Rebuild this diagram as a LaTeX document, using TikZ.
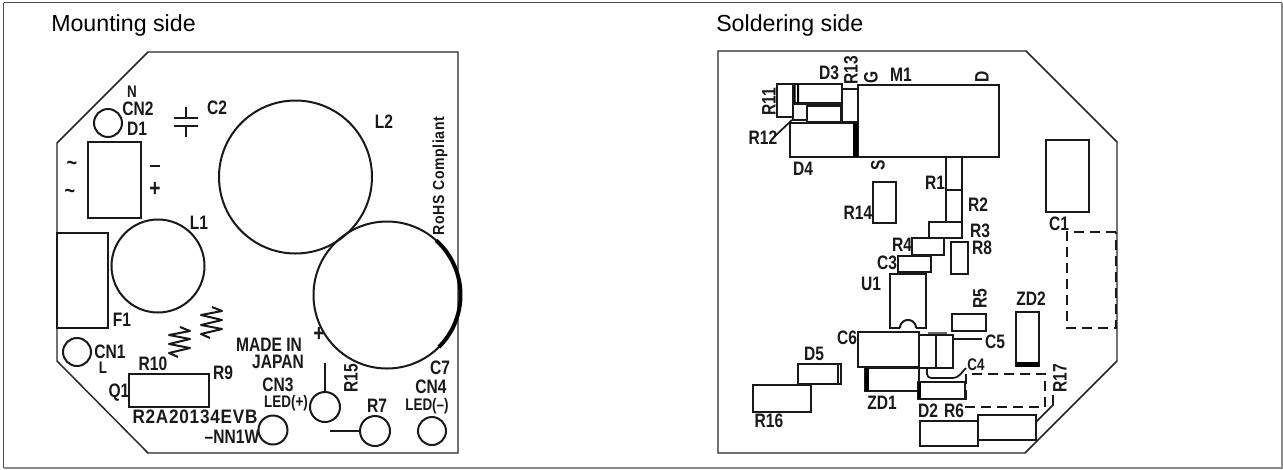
\documentclass[tikz,border=0pt]{standalone}
\usepackage{fontspec}
\setmainfont{Liberation Sans}
\newfontfamily\cadfont[FakeStretch=0.8]{Liberation Sans Bold}
\newfontfamily\cadwide[FakeStretch=0.88,LetterSpace=4]{Liberation Sans Bold}
\begin{document}
\begin{tikzpicture}[x=0.75pt,y=-0.75pt,
  board/.style={draw=black!85,line width=1.1pt,line join=miter},
  part/.style={draw=black!90,line width=1.5pt,line join=miter},
  dash part/.style={draw=black!90,line width=1.4pt,dash pattern=on 7.5pt off 4.5pt},
  lead/.style={draw=black!90,line width=1.3pt},
  lab/.style={font=\cadfont\fontsize{14.6}{14.6}\selectfont,inner sep=0pt,text=black!90,xshift=0.75pt},
  smlab/.style={font=\cadfont\fontsize{12.6}{12.6}\selectfont,inner sep=0pt,text=black!90,xshift=0.75pt},
  widelab/.style={font=\cadwide\fontsize{14.6}{14.6}\selectfont,inner sep=0pt,text=black!90},
  rohslab/.style={font=\cadwide\fontsize{12}{12}\selectfont,inner sep=0pt,text=black!90},
  title/.style={font=\fontsize{17.4}{18}\selectfont,anchor=west,inner sep=0pt,text=black}]
\useasboundingbox (0,0) rectangle (1283,469);
\fill[white] (0,0) rectangle (1283,469);
% frame
\draw[draw=black!70,line width=1.4pt] (3.5,2.5) -- (1282,2.5);
\draw[draw=black!70,line width=1.4pt] (3.5,2.5) -- (3.5,468);
\draw[draw=black!45,line width=1.1pt] (3.5,468) -- (1282,468) -- (1282,2.5);
\node[title] (t1) at (51,25) {Mounting side};
\node[title] (t2) at (716,25) {Soldering side};
% LEFT BOARD
\draw[board] (148,52) -- (458,52) -- (458,453) -- (148,453) -- (57,361) -- (57,143) -- cycle;
\draw[part] (108,123) circle[radius=14];
\draw[part] (88,142) rectangle (141,218);
\draw[part] (57,233) rectangle (108,328);
\draw[part] (158,266) circle[radius=46.5];
\draw[part] (295.5,177) circle[radius=76.5];
\draw[part] (387,295) circle[radius=73.5];
\draw[line width=3pt,black] plot[domain=-48:45,samples=40] ({387+73.5*cos(\x)},{295+73.5*sin(\x)});
\draw[part] (186,107) -- (186,118) (186,126) -- (186,137) (174,118) -- (198,118) (174,126) -- (198,126);
\draw[part,line join=round] (180,327) -- (190,331) -- (169,335) -- (190,339) -- (169,344) -- (190,348) -- (169,353) -- (178,357);
\draw[part,line join=round] (212,307) -- (222,311) -- (201,315) -- (222,320) -- (201,325) -- (222,329) -- (201,334) -- (210,338);
\draw[part] (77,352) circle[radius=14];
\draw[part] (129,374) rectangle (209,407);
\draw[part] (325,407) circle[radius=15];
\draw[lead] (325,392) -- (325,363);
\draw[part] (273,430) circle[radius=14.5];
\draw[part] (375,431) circle[radius=15];
\draw[lead] (360,431) -- (330,431);
\draw[part] (432,431) circle[radius=14];
\node[smlab] (n1) at (131,92) {N};
\node[lab] (n2) at (137,109) {CN2};
\node[lab] (n3) at (136,129) {D1};
\node[lab] (n4) at (216,108) {C2};
\node[lab,font=\cadfont\fontsize{17}{17}\selectfont] (n5) at (71,166) {\char"007E};
\node[lab,font=\cadfont\fontsize{17}{17}\selectfont] (n6) at (69,194) {\char"007E};
\node[lab] (n7) at (154,166) {\rule{8pt}{1.4pt}};
\node[lab,font=\cadfont\fontsize{18}{18}\selectfont] (n8) at (154,189) {+};
\node[lab] (n9) at (198,223) {L1};
\node[lab] (n10) at (383,122) {L2};
\node[lab] (n11) at (121,320) {F1};
\node[lab] (n12) at (109,352) {CN1};
\node[smlab] (n13) at (102,368) {L};
\node[lab] (n14) at (152,364) {R10};
\node[lab] (n15) at (222,373) {R9};
\node[lab] (n16) at (118,393) {Q1};
\node[widelab] (n17) at (195,417) {R2A20134EVB};
\node[lab] (n18) at (231,437) {\char"2013NN1W};
\node[lab] (n19) at (268,345) {MADE IN};
\node[lab] (n20) at (277,362) {JAPAN};
\node[lab] (n21) at (277,385) {CN3};
\node[smlab] (n22) at (285,403) {LED(+)};
\node[lab,rotate=90] (n23) at (350,378) {R15};
\node[lab] (n24) at (376,406) {R7};
\node[lab] (n25) at (439,368) {C7};
\node[lab] (n26) at (430,387) {CN4};
\node[smlab] (n27) at (426,406) {LED(\char"2013)};
\node[rohslab,rotate=90] (n28) at (440,176) {RoHS Compliant};
\node[lab,font=\cadfont\fontsize{18}{18}\selectfont] (n29) at (318,334) {+};
% RIGHT BOARD
\draw[board] (718,51) -- (1026,51) -- (1117,142) -- (1117,361) -- (1025,453) -- (718,453) -- cycle;
\draw[part] (858,85) rectangle (999,157);
\draw[part] (842,89) rectangle (858,122);
\draw[part] (777,84) rectangle (793,117);
\draw[part] (794,84) rectangle (842,103);
\fill[black] (794,84) rectangle (795.5,103) (797,84) rectangle (799,103);
\draw[part] (794,104) -- (842,104);
\draw[part] (793,103) -- (793,120) -- (807,120);
\draw[part] (807,106) rectangle (841,122);
\draw[part] (790,123) rectangle (858,157);
\fill[black] (853,123) rectangle (858,157);
\draw[lead] (774,137) -- (792,120);
\draw[part] (946,157) rectangle (962,190);
\draw[part] (946,190) rectangle (962,222);
\draw[part] (873,182) rectangle (896,223);
\draw[part] (929,222) rectangle (962,238);
\draw[part] (912,238) rectangle (944,255);
\draw[part] (898,256) rectangle (931,272);
\draw[part] (951,242) rectangle (968,274);
\draw[part] (900,328) -- (890,328) -- (890,274) -- (926,274) -- (926,328) -- (916,328);
\draw[part] plot[domain=180:360,samples=24] ({908+8*cos(\x)},{328-8*abs(sin(\x))});
\draw[part] (952,314) rectangle (986,331);
\draw[part] (1016,312) rectangle (1039,366);
\fill[black] (1016,362) rectangle (1039,366.5);
\draw[part] (1046,140) rectangle (1089,212);
\draw[dash part] (1116,232) -- (1067,232) -- (1067,328) -- (1116,328) -- cycle;
\draw[part] (858,332) rectangle (919,367);
\draw[part] (919,335) rectangle (936,368);
\draw[part] (936,335) rectangle (953,368);
\draw[draw=black!60,line width=1.5pt] (928,333) -- (947,333);
\draw[lead] (953,339) -- (982,339);
\draw[part] (865,368) rectangle (919,391);
\fill[black] (865,368) rectangle (869,391);
\draw[part] (798,364) rectangle (841,384);
\draw[lead] (838,364) -- (838,384);
\draw[part] (753,385) rectangle (811,412);
\draw[part] (918,382) rectangle (965,399);
\fill[black] (918,382) rectangle (921,399);
\draw[lead,rounded corners=3pt] (927,368) -- (927,378) -- (957,378) -- (966,368);
\draw[dash part] (966,374) rectangle (1045,407);
\draw[part] (920,421) rectangle (978,446);
\draw[part] (978,415) rectangle (1036,440);
\draw[lead] (1036,422) -- (1053,405) -- (1053,395);
\node[lab] (m1) at (828,73) {D3};
\node[lab,rotate=90] (m2) at (850,70) {R13};
\node[lab,rotate=90] (m3) at (870,77) {G};
\node[lab] (m4) at (900,75) {M1};
\node[lab,rotate=90] (m5) at (981,77) {D};
\node[lab,rotate=90] (m6) at (768,102) {R11};
\node[lab] (m7) at (762,138) {R12};
\node[lab] (m8) at (802,169) {D4};
\node[lab,rotate=90] (m9) at (877,165) {S};
\node[lab] (m10) at (934,183) {R1};
\node[lab] (m11) at (977,205) {R2};
\node[lab] (m12) at (857,213) {R14};
\node[lab] (m13) at (979,231) {R3};
\node[lab] (m14) at (981,248) {R8};
\node[lab] (m15) at (901,245) {R4};
\node[lab] (m16) at (886,263) {C3};
\node[lab] (m17) at (870,284) {U1};
\node[lab,rotate=90] (m18) at (979,299) {R5};
\node[lab] (m19) at (1030,299) {ZD2};
\node[lab] (m20) at (1058,224) {C1};
\node[lab] (m21) at (846,338) {C6};
\node[lab] (m22) at (994,342) {C5};
\node[smlab] (m23) at (975,365) {C4};
\node[lab] (m24) at (813,354) {D5};
\node[lab] (m25) at (768,421) {R16};
\node[lab] (m26) at (881,403) {ZD1};
\node[lab] (m27) at (927,411) {D2};
\node[lab] (m28) at (953,411) {R6};
\node[lab,rotate=90] (m29) at (1059,378) {R17};
\end{tikzpicture}
\end{document}
